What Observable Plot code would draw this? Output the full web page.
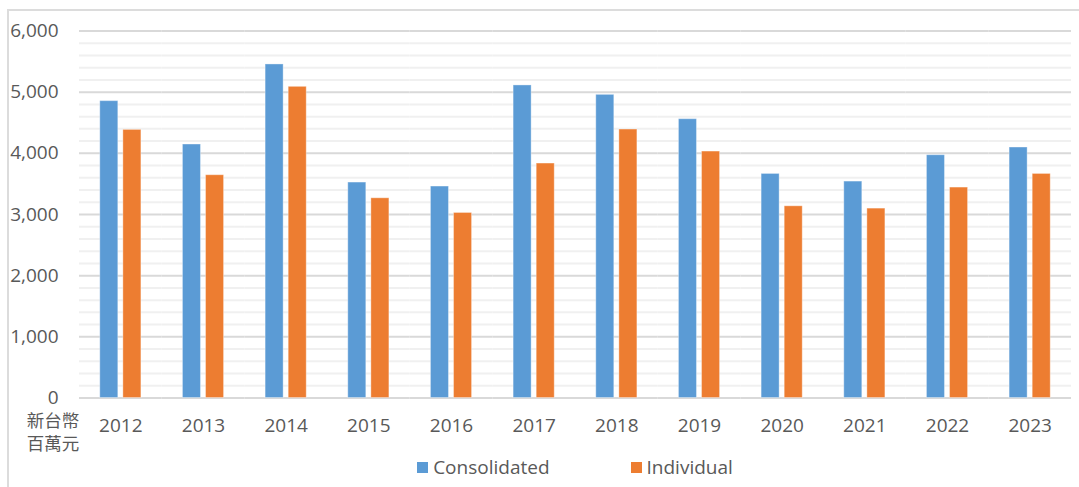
<!DOCTYPE html>
<html>
<head>
<meta charset="utf-8">
<script src="https://cdn.jsdelivr.net/npm/d3@7"></script>
<script src="https://cdn.jsdelivr.net/npm/@observablehq/plot@0.6"></script>
<style>
  html, body { margin: 0; padding: 0; background: #fff; }
  body { width: 1079px; height: 487px; position: relative; overflow: hidden;
         font-family: "Open Sans", "Noto Sans CJK TC", sans-serif; color: #595959; }
  #frame { position: absolute; left: 7px; top: 9px; right: -2px; bottom: -2px;
           border-top: 2px solid #dcdcdc; border-left: 2px solid #dcdcdc; pointer-events: none; }
  #chart { position: absolute; left: 0; top: 0; }
  #unit { position: absolute; left: 22px; top: 408px; width: 62px; text-align: center;
          font-size: 17.5px; line-height: 23px; font-family: "Noto Sans CJK TC", sans-serif; color: #595959; }
  #legend { position: absolute; left: 79px; width: 992px; top: 454px; height: 26px;
            display: flex; justify-content: center; align-items: center; gap: 81px; font-size: 19px; }
  .item { display: flex; align-items: center; }
  .sw { width: 11px; height: 11px; margin-right: 5px; display: inline-block; }
</style>
</head>
<body>
<div id="chart"></div>
<div id="unit">新台幣<br>百萬元</div>
<div id="legend"></div>
<div id="frame"></div>
<script>
const years = ["2012","2013","2014","2015","2016","2017","2018","2019","2020","2021","2022","2023"];
const series = ["Consolidated", "Individual"];
const consolidated = [4853, 4144, 5453, 3522, 3457, 5110, 4956, 4558, 3663, 3538, 3969, 4095];
const individual   = [4383, 3642, 5087, 3265, 3025, 3833, 4389, 4029, 3134, 3096, 3440, 3663];
const colors = ["#5B9BD5", "#ED7D31"];
const majorTicks = [0, 1000, 2000, 3000, 4000, 5000, 6000];
const minorTicks = d3.range(0, 6001, 200).filter(v => v % 1000 !== 0);

const rows = [];
years.forEach((y, i) => {
  rows.push({year: y, series: series[0], value: consolidated[i]});
  rows.push({year: y, series: series[1], value: individual[i]});
});

const fmt = d3.format(",");

const chart = Plot.plot({
  width: 1079,
  height: 450,
  marginTop: 30.5,
  marginBottom: 52.5,
  marginLeft: 79,
  marginRight: 8,
  style: {fontFamily: "'Open Sans', 'Noto Sans CJK TC', sans-serif", fontSize: "19px", color: "#595959", background: "transparent"},
  fx: {domain: years, padding: 0, round: false, label: null, axis: "bottom", tickSize: 0, tickPadding: 20},
  x: {domain: series, axis: null, round: false, paddingInner: 0.22, paddingOuter: 0.9},
  y: {domain: [0, 6000], ticks: majorTicks, tickFormat: d => fmt(d), tickSize: 0, tickPadding: 21, label: null},
  color: {domain: series, range: colors},
  marks: [
    Plot.ruleY(minorTicks, {stroke: "#f0f0f0", strokeWidth: 2}),
    Plot.ruleY(majorTicks, {stroke: "#d9d9d9", strokeWidth: 2}),
    Plot.barY(rows, {fx: "year", x: "series", y: "value", fill: "series", stroke: "white", strokeOpacity: 0.35, strokeWidth: 1})
  ]
});
document.getElementById("chart").appendChild(chart);

const legend = document.getElementById("legend");
series.forEach((s, i) => {
  const it = document.createElement("div");
  it.className = "item";
  const sw = document.createElement("span");
  sw.className = "sw";
  sw.style.background = colors[i];
  it.appendChild(sw);
  it.appendChild(document.createTextNode(s));
  legend.appendChild(it);
});
</script>
</body>
</html>
